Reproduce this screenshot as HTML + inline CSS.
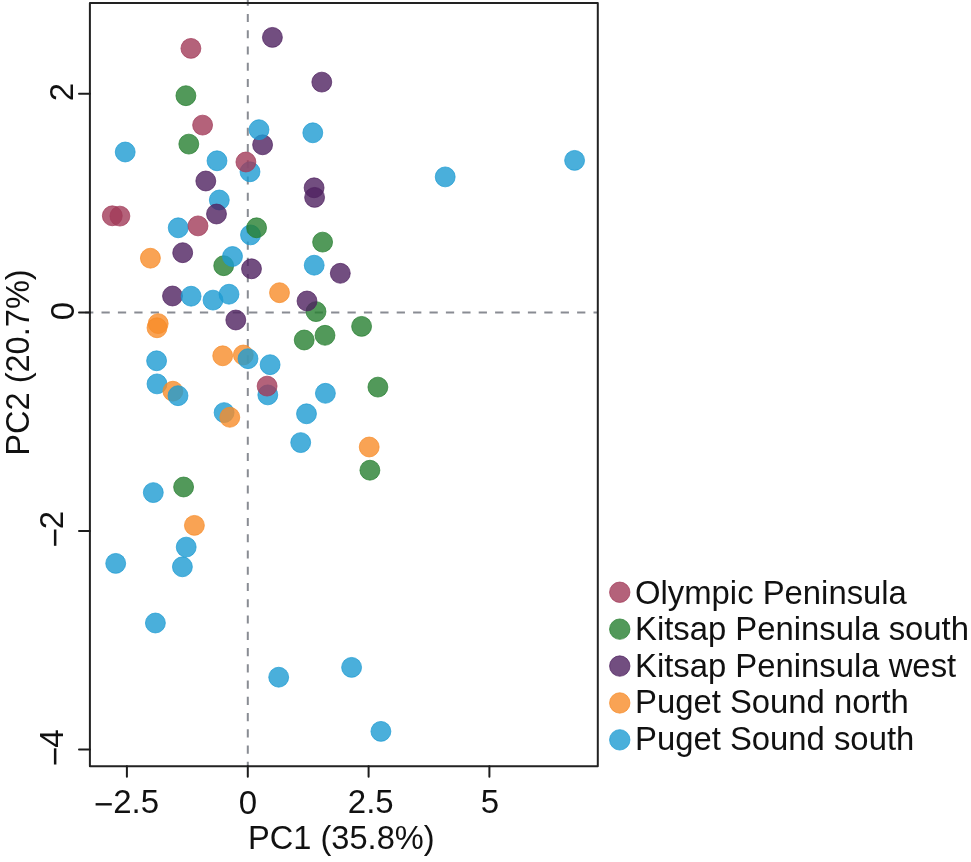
<!DOCTYPE html>
<html><head><meta charset="utf-8"><style>
html,body{margin:0;padding:0;background:#fff;}
svg{display:block;will-change:transform;}
text{font-family:"Liberation Sans",sans-serif;fill:#111;}
</style></head><body>
<svg width="971" height="862" viewBox="0 0 971 862">
<rect width="971" height="862" fill="#fff"/>

<line x1="247.8" y1="-2.36" x2="247.8" y2="766.2" stroke="#898c93" stroke-width="2" stroke-dasharray="8.1 8.16"/>
<line x1="85.1" y1="312.45" x2="597.8" y2="312.45" stroke="#898c93" stroke-width="2" stroke-dasharray="8.25 8.15"/>
<circle cx="125.2" cy="152" r="9.95" fill="rgba(29,155,210,0.8)" stroke="rgba(29,155,210,0.8)" stroke-width="0.9"/>
<circle cx="312.8" cy="132.8" r="9.95" fill="rgba(29,155,210,0.8)" stroke="rgba(29,155,210,0.8)" stroke-width="0.9"/>
<circle cx="217" cy="160.8" r="9.95" fill="rgba(29,155,210,0.8)" stroke="rgba(29,155,210,0.8)" stroke-width="0.9"/>
<circle cx="250" cy="171.8" r="9.95" fill="rgba(29,155,210,0.8)" stroke="rgba(29,155,210,0.8)" stroke-width="0.9"/>
<circle cx="445.2" cy="176.9" r="9.95" fill="rgba(29,155,210,0.8)" stroke="rgba(29,155,210,0.8)" stroke-width="0.9"/>
<circle cx="574.6" cy="160.4" r="9.95" fill="rgba(29,155,210,0.8)" stroke="rgba(29,155,210,0.8)" stroke-width="0.9"/>
<circle cx="219.3" cy="200" r="9.95" fill="rgba(29,155,210,0.8)" stroke="rgba(29,155,210,0.8)" stroke-width="0.9"/>
<circle cx="178.2" cy="227.8" r="9.95" fill="rgba(29,155,210,0.8)" stroke="rgba(29,155,210,0.8)" stroke-width="0.9"/>
<circle cx="250.5" cy="234.9" r="9.95" fill="rgba(29,155,210,0.8)" stroke="rgba(29,155,210,0.8)" stroke-width="0.9"/>
<circle cx="314.2" cy="265.2" r="9.95" fill="rgba(29,155,210,0.8)" stroke="rgba(29,155,210,0.8)" stroke-width="0.9"/>
<circle cx="213" cy="300.1" r="9.95" fill="rgba(29,155,210,0.8)" stroke="rgba(29,155,210,0.8)" stroke-width="0.9"/>
<circle cx="229" cy="294.2" r="9.95" fill="rgba(29,155,210,0.8)" stroke="rgba(29,155,210,0.8)" stroke-width="0.9"/>
<circle cx="156.6" cy="360.8" r="9.95" fill="rgba(29,155,210,0.8)" stroke="rgba(29,155,210,0.8)" stroke-width="0.9"/>
<circle cx="270.1" cy="364.7" r="9.95" fill="rgba(29,155,210,0.8)" stroke="rgba(29,155,210,0.8)" stroke-width="0.9"/>
<circle cx="157" cy="383.9" r="9.95" fill="rgba(29,155,210,0.8)" stroke="rgba(29,155,210,0.8)" stroke-width="0.9"/>
<circle cx="267.8" cy="394.9" r="9.95" fill="rgba(29,155,210,0.8)" stroke="rgba(29,155,210,0.8)" stroke-width="0.9"/>
<circle cx="325.4" cy="393.3" r="9.95" fill="rgba(29,155,210,0.8)" stroke="rgba(29,155,210,0.8)" stroke-width="0.9"/>
<circle cx="224.1" cy="412.6" r="9.95" fill="rgba(29,155,210,0.8)" stroke="rgba(29,155,210,0.8)" stroke-width="0.9"/>
<circle cx="306.5" cy="413.8" r="9.95" fill="rgba(29,155,210,0.8)" stroke="rgba(29,155,210,0.8)" stroke-width="0.9"/>
<circle cx="300.7" cy="442.6" r="9.95" fill="rgba(29,155,210,0.8)" stroke="rgba(29,155,210,0.8)" stroke-width="0.9"/>
<circle cx="153.3" cy="492.6" r="9.95" fill="rgba(29,155,210,0.8)" stroke="rgba(29,155,210,0.8)" stroke-width="0.9"/>
<circle cx="186.2" cy="547.1" r="9.95" fill="rgba(29,155,210,0.8)" stroke="rgba(29,155,210,0.8)" stroke-width="0.9"/>
<circle cx="115.7" cy="563.4" r="9.95" fill="rgba(29,155,210,0.8)" stroke="rgba(29,155,210,0.8)" stroke-width="0.9"/>
<circle cx="182.4" cy="566.8" r="9.95" fill="rgba(29,155,210,0.8)" stroke="rgba(29,155,210,0.8)" stroke-width="0.9"/>
<circle cx="155.4" cy="623" r="9.95" fill="rgba(29,155,210,0.8)" stroke="rgba(29,155,210,0.8)" stroke-width="0.9"/>
<circle cx="351.6" cy="667.4" r="9.95" fill="rgba(29,155,210,0.8)" stroke="rgba(29,155,210,0.8)" stroke-width="0.9"/>
<circle cx="278.7" cy="677.2" r="9.95" fill="rgba(29,155,210,0.8)" stroke="rgba(29,155,210,0.8)" stroke-width="0.9"/>
<circle cx="380.9" cy="731.4" r="9.95" fill="rgba(29,155,210,0.8)" stroke="rgba(29,155,210,0.8)" stroke-width="0.9"/>
<circle cx="190.9" cy="48.4" r="9.95" fill="rgba(161,59,89,0.8)" stroke="rgba(161,59,89,0.8)" stroke-width="0.9"/>
<circle cx="202.6" cy="125.1" r="9.95" fill="rgba(161,59,89,0.8)" stroke="rgba(161,59,89,0.8)" stroke-width="0.9"/>
<circle cx="245.9" cy="162.0" r="9.95" fill="rgba(161,59,89,0.8)" stroke="rgba(161,59,89,0.8)" stroke-width="0.9"/>
<circle cx="112.3" cy="215.8" r="9.95" fill="rgba(161,59,89,0.8)" stroke="rgba(161,59,89,0.8)" stroke-width="0.9"/>
<circle cx="119.9" cy="216.1" r="9.95" fill="rgba(161,59,89,0.8)" stroke="rgba(161,59,89,0.8)" stroke-width="0.9"/>
<circle cx="198.0" cy="225.9" r="9.95" fill="rgba(161,59,89,0.8)" stroke="rgba(161,59,89,0.8)" stroke-width="0.9"/>
<circle cx="267.1" cy="386.1" r="9.95" fill="rgba(161,59,89,0.8)" stroke="rgba(161,59,89,0.8)" stroke-width="0.9"/>
<circle cx="185.9" cy="95.7" r="9.95" fill="rgba(39,127,49,0.8)" stroke="rgba(39,127,49,0.8)" stroke-width="0.9"/>
<circle cx="188.8" cy="144.1" r="9.95" fill="rgba(39,127,49,0.8)" stroke="rgba(39,127,49,0.8)" stroke-width="0.9"/>
<circle cx="256.6" cy="227.8" r="9.95" fill="rgba(39,127,49,0.8)" stroke="rgba(39,127,49,0.8)" stroke-width="0.9"/>
<circle cx="322.6" cy="242.1" r="9.95" fill="rgba(39,127,49,0.8)" stroke="rgba(39,127,49,0.8)" stroke-width="0.9"/>
<circle cx="223.7" cy="265.7" r="9.95" fill="rgba(39,127,49,0.8)" stroke="rgba(39,127,49,0.8)" stroke-width="0.9"/>
<circle cx="316" cy="311.6" r="9.95" fill="rgba(39,127,49,0.8)" stroke="rgba(39,127,49,0.8)" stroke-width="0.9"/>
<circle cx="361.6" cy="326.4" r="9.95" fill="rgba(39,127,49,0.8)" stroke="rgba(39,127,49,0.8)" stroke-width="0.9"/>
<circle cx="325" cy="335.3" r="9.95" fill="rgba(39,127,49,0.8)" stroke="rgba(39,127,49,0.8)" stroke-width="0.9"/>
<circle cx="304.2" cy="340" r="9.95" fill="rgba(39,127,49,0.8)" stroke="rgba(39,127,49,0.8)" stroke-width="0.9"/>
<circle cx="377.9" cy="387.1" r="9.95" fill="rgba(39,127,49,0.8)" stroke="rgba(39,127,49,0.8)" stroke-width="0.9"/>
<circle cx="369.9" cy="470.2" r="9.95" fill="rgba(39,127,49,0.8)" stroke="rgba(39,127,49,0.8)" stroke-width="0.9"/>
<circle cx="183.6" cy="487" r="9.95" fill="rgba(39,127,49,0.8)" stroke="rgba(39,127,49,0.8)" stroke-width="0.9"/>
<circle cx="272.4" cy="37.4" r="9.95" fill="rgba(79,34,96,0.8)" stroke="rgba(79,34,96,0.8)" stroke-width="0.9"/>
<circle cx="321.8" cy="82.1" r="9.95" fill="rgba(79,34,96,0.8)" stroke="rgba(79,34,96,0.8)" stroke-width="0.9"/>
<circle cx="262.6" cy="144.8" r="9.95" fill="rgba(79,34,96,0.8)" stroke="rgba(79,34,96,0.8)" stroke-width="0.9"/>
<circle cx="205.8" cy="181" r="9.95" fill="rgba(79,34,96,0.8)" stroke="rgba(79,34,96,0.8)" stroke-width="0.9"/>
<circle cx="314.1" cy="187.8" r="9.95" fill="rgba(79,34,96,0.8)" stroke="rgba(79,34,96,0.8)" stroke-width="0.9"/>
<circle cx="314.6" cy="197.4" r="9.95" fill="rgba(79,34,96,0.8)" stroke="rgba(79,34,96,0.8)" stroke-width="0.9"/>
<circle cx="216.5" cy="214" r="9.95" fill="rgba(79,34,96,0.8)" stroke="rgba(79,34,96,0.8)" stroke-width="0.9"/>
<circle cx="182.7" cy="252.7" r="9.95" fill="rgba(79,34,96,0.8)" stroke="rgba(79,34,96,0.8)" stroke-width="0.9"/>
<circle cx="251.5" cy="268.8" r="9.95" fill="rgba(79,34,96,0.8)" stroke="rgba(79,34,96,0.8)" stroke-width="0.9"/>
<circle cx="340.3" cy="273.3" r="9.95" fill="rgba(79,34,96,0.8)" stroke="rgba(79,34,96,0.8)" stroke-width="0.9"/>
<circle cx="172.5" cy="296" r="9.95" fill="rgba(79,34,96,0.8)" stroke="rgba(79,34,96,0.8)" stroke-width="0.9"/>
<circle cx="307" cy="301" r="9.95" fill="rgba(79,34,96,0.8)" stroke="rgba(79,34,96,0.8)" stroke-width="0.9"/>
<circle cx="235.8" cy="320" r="9.95" fill="rgba(79,34,96,0.8)" stroke="rgba(79,34,96,0.8)" stroke-width="0.9"/>
<circle cx="150.4" cy="258.2" r="9.95" fill="rgba(247,140,41,0.8)" stroke="rgba(247,140,41,0.8)" stroke-width="0.9"/>
<circle cx="279.5" cy="292.7" r="9.95" fill="rgba(247,140,41,0.8)" stroke="rgba(247,140,41,0.8)" stroke-width="0.9"/>
<circle cx="158.2" cy="323.6" r="9.95" fill="rgba(247,140,41,0.8)" stroke="rgba(247,140,41,0.8)" stroke-width="0.9"/>
<circle cx="157" cy="327.8" r="9.95" fill="rgba(247,140,41,0.8)" stroke="rgba(247,140,41,0.8)" stroke-width="0.9"/>
<circle cx="222.7" cy="355.8" r="9.95" fill="rgba(247,140,41,0.8)" stroke="rgba(247,140,41,0.8)" stroke-width="0.9"/>
<circle cx="243.3" cy="355" r="9.95" fill="rgba(247,140,41,0.8)" stroke="rgba(247,140,41,0.8)" stroke-width="0.9"/>
<circle cx="172.9" cy="391.2" r="9.95" fill="rgba(247,140,41,0.8)" stroke="rgba(247,140,41,0.8)" stroke-width="0.9"/>
<circle cx="229.8" cy="417.3" r="9.95" fill="rgba(247,140,41,0.8)" stroke="rgba(247,140,41,0.8)" stroke-width="0.9"/>
<circle cx="369.2" cy="447.0" r="9.95" fill="rgba(247,140,41,0.8)" stroke="rgba(247,140,41,0.8)" stroke-width="0.9"/>
<circle cx="194.4" cy="525.4" r="9.95" fill="rgba(247,140,41,0.8)" stroke="rgba(247,140,41,0.8)" stroke-width="0.9"/>
<circle cx="259" cy="129.7" r="9.95" fill="rgba(29,155,210,0.8)" stroke="rgba(29,155,210,0.8)" stroke-width="0.9"/>
<circle cx="232.5" cy="256.5" r="9.95" fill="rgba(29,155,210,0.8)" stroke="rgba(29,155,210,0.8)" stroke-width="0.9"/>
<circle cx="191.1" cy="296.2" r="9.95" fill="rgba(29,155,210,0.8)" stroke="rgba(29,155,210,0.8)" stroke-width="0.9"/>
<circle cx="248" cy="358.7" r="9.95" fill="rgba(29,155,210,0.8)" stroke="rgba(29,155,210,0.8)" stroke-width="0.9"/>
<circle cx="178" cy="395.7" r="9.95" fill="rgba(29,155,210,0.8)" stroke="rgba(29,155,210,0.8)" stroke-width="0.9"/>
<rect x="89.9" y="3.0" width="507.9" height="763.2" fill="none" stroke="#222" stroke-width="2" stroke-linejoin="round"/>
<line x1="126.9" y1="766.2" x2="126.9" y2="776.8000000000001" stroke="#1c1c1c" stroke-width="2" stroke-linecap="round"/>
<line x1="247.8" y1="766.2" x2="247.8" y2="776.8000000000001" stroke="#1c1c1c" stroke-width="2" stroke-linecap="round"/>
<line x1="368.6" y1="766.2" x2="368.6" y2="776.8000000000001" stroke="#1c1c1c" stroke-width="2" stroke-linecap="round"/>
<line x1="489.4" y1="766.2" x2="489.4" y2="776.8000000000001" stroke="#1c1c1c" stroke-width="2" stroke-linecap="round"/>
<line x1="89.9" y1="93.7" x2="79.0" y2="93.7" stroke="#1c1c1c" stroke-width="2" stroke-linecap="round"/>
<line x1="89.9" y1="312.4" x2="79.0" y2="312.4" stroke="#1c1c1c" stroke-width="2" stroke-linecap="round"/>
<line x1="89.9" y1="530.9" x2="79.0" y2="530.9" stroke="#1c1c1c" stroke-width="2" stroke-linecap="round"/>
<line x1="89.9" y1="749.5" x2="79.0" y2="749.5" stroke="#1c1c1c" stroke-width="2" stroke-linecap="round"/>
<rect x="95.6" y="803.1" width="16.2" height="2.4" fill="#111"/>
<rect x="53.9" y="529.5" width="2.5" height="16.3" fill="#111"/>
<rect x="53.9" y="748.3" width="2.5" height="16.2" fill="#111"/>
<text transform="translate(73.10,92.10) rotate(-90)" font-size="33" text-anchor="middle">2</text>
<text transform="translate(73.90,311.10) rotate(-90)" font-size="33" text-anchor="middle">0</text>
<text transform="translate(62.90,520.05) rotate(-90)" font-size="33" text-anchor="middle">2</text>
<text transform="translate(63.25,738.65) rotate(-90)" font-size="33" text-anchor="middle">4</text>
<text x="136.20" y="812.85" font-size="33" text-anchor="middle">2.5</text>
<text x="247.85" y="813.50" font-size="33" text-anchor="middle">0</text>
<text x="370.75" y="812.55" font-size="33" text-anchor="middle">2.5</text>
<text x="489.85" y="813.30" font-size="33" text-anchor="middle">5</text>
<text x="341.35" y="848.50" font-size="32.6" text-anchor="middle">PC1 (35.8%)</text>
<text transform="translate(29.45,362.55) rotate(-90)" font-size="32.6" text-anchor="middle">PC2 (20.7%)</text>
<text x="635.00" y="603.60" font-size="32.85">Olympic Peninsula</text>
<text x="635.00" y="640.10" font-size="32.85">Kitsap Peninsula south</text>
<text x="635.00" y="676.60" font-size="32.85">Kitsap Peninsula west</text>
<text x="635.00" y="713.10" font-size="32.85">Puget Sound north</text>
<text x="635.00" y="749.60" font-size="32.85">Puget Sound south</text>
<circle cx="619.75" cy="592.25" r="10.20" fill="rgba(161,59,89,0.8)" stroke="rgba(161,59,89,0.8)" stroke-width="0.9"/>
<circle cx="619.75" cy="629.15" r="10.20" fill="rgba(39,127,49,0.8)" stroke="rgba(39,127,49,0.8)" stroke-width="0.9"/>
<circle cx="619.75" cy="666.05" r="10.20" fill="rgba(79,34,96,0.8)" stroke="rgba(79,34,96,0.8)" stroke-width="0.9"/>
<circle cx="619.75" cy="702.95" r="10.20" fill="rgba(247,140,41,0.8)" stroke="rgba(247,140,41,0.8)" stroke-width="0.9"/>
<circle cx="619.75" cy="739.85" r="10.20" fill="rgba(29,155,210,0.8)" stroke="rgba(29,155,210,0.8)" stroke-width="0.9"/>
</svg></body></html>
